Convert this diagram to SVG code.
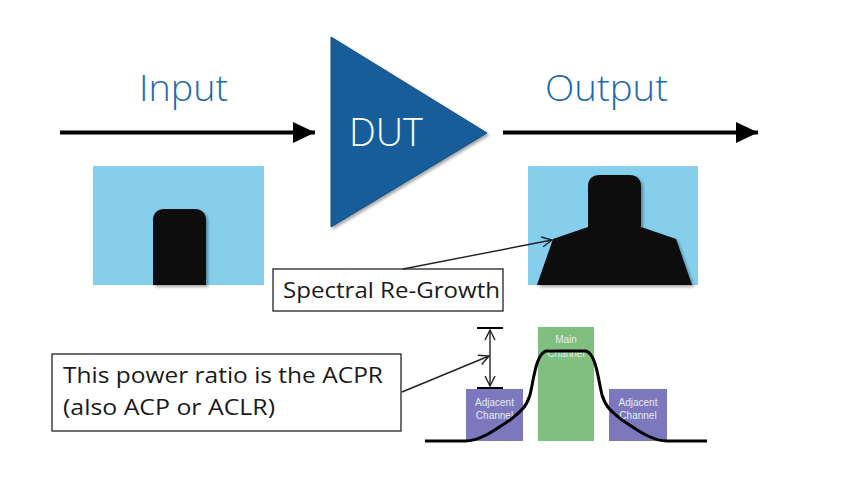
<svg xmlns="http://www.w3.org/2000/svg" width="851" height="494" viewBox="0 0 851 494">
<defs>
<style>
.title{font-family:"Open Sans","Noto Sans","Liberation Sans",sans-serif;font-weight:300;fill:#1b69ae;font-size:36px}
.lbl{font-family:"Open Sans","Noto Sans","Liberation Sans",sans-serif;fill:#1a1a1a;font-size:21px}
.small{font-family:"Liberation Sans","Arial",sans-serif;fill:#e6ecf5;font-size:10px;text-anchor:middle}
.box{fill:#ffffff;stroke:#222;stroke-width:1.3}
.spec{fill:#85cfec}
.pulse{fill:#07080a;filter:url(#sh)}
.thin{stroke:#222;stroke-width:1.4;fill:none}
.main{stroke:#000;stroke-width:4;fill:none}
</style>
<filter id="sh" x="-10%" y="-10%" width="130%" height="130%">
<feDropShadow dx="2" dy="2" stdDeviation="1.5" flood-color="#000" flood-opacity="0.35"/>
</filter>
<marker id="big" markerUnits="userSpaceOnUse" markerWidth="24" markerHeight="24" viewBox="0 0 24 24" refX="22" refY="12" orient="auto">
<path d="M0,1.5 L22,12 L0,22.5 Z" fill="#000"/>
</marker>
<marker id="open" markerUnits="userSpaceOnUse" markerWidth="14" markerHeight="14" viewBox="0 0 14 14" refX="12" refY="7" orient="auto-start-reverse">
<path d="M2,2 L12,7 L2,12" fill="none" stroke="#222" stroke-width="1.4"/>
</marker>
</defs>

<g id="input-label"><text class="title" x="139" y="101" textLength="89" lengthAdjust="spacingAndGlyphs">Input</text></g>
<g id="output-label"><text class="title" x="545" y="101" textLength="123" lengthAdjust="spacingAndGlyphs">Output</text></g>

<g id="dut">
<polygon points="331,37 487,133 331,227" fill="#175d9a" stroke="#124f85" stroke-width="1" filter="url(#sh)"/>
<text x="349" y="146" font-family="Open Sans,Noto Sans,Liberation Sans,sans-serif" font-size="38" font-weight="300" fill="#ffffff" textLength="74" lengthAdjust="spacingAndGlyphs">DUT</text>
</g>

<g id="input-spectrum">
<rect class="spec" x="93" y="166" width="171" height="119"/>
<path class="pulse" d="M153,285 L153,221 Q153,209 165,209 L194,209 Q206,209 206,221 L206,285 Z"/>
</g>

<g id="output-spectrum">
<rect class="spec" x="528" y="166" width="170" height="119"/>
<path class="pulse" d="M537,285 L553,239 L588,227 L588,187 Q588,175 600,175 L629,175 Q641,175 641,187 L641,227 L676,239 L692,285 Z"/>
</g>

<g id="spectral-regrowth">
<rect class="box" x="273" y="269" width="230" height="42"/>
<text class="lbl" x="283" y="298" textLength="217" lengthAdjust="spacingAndGlyphs">Spectral Re-Growth</text>
</g>

<g id="acpr-note">
<rect class="box" x="52" y="354" width="349" height="77"/>
<text class="lbl" x="63" y="383" textLength="320" lengthAdjust="spacingAndGlyphs">This power ratio is the ACPR</text>
<text class="lbl" x="63" y="415" textLength="212" lengthAdjust="spacingAndGlyphs">(also ACP or ACLR)</text>
</g>

<g id="adjacent-left">
<rect x="466" y="389" width="57" height="52" fill="#7b78bd"/>
<text class="small" x="494.5" y="406">Adjacent</text>
<text class="small" x="494.5" y="419">Channel</text>
</g>
<g id="main-channel">
<rect x="538" y="327" width="56" height="114" fill="#7fbf7f"/>
<text class="small" x="566" y="343" fill="#e8f0e0">Main</text>
<text class="small" x="566" y="357">Channel</text>
</g>
<g id="adjacent-right">
<rect x="609" y="389" width="58" height="52" fill="#7b78bd"/>
<text class="small" x="638" y="406">Adjacent</text>
<text class="small" x="638" y="419">Channel</text>
</g>

<g id="spectrum-curve">
<path d="M425,441 L465,441 C480,441 495,430 510,420 C520,412 526,408 530,395 C534,378 536,354 546,351 L586,351 C596,354 598,378 602,395 C606,408 612,412 622,420 C637,430 652,441 667,441 L707,441" fill="none" stroke="#000" stroke-width="3"/>
</g>

<g id="ratio-measure">
<line x1="477" y1="328" x2="503" y2="328" stroke="#000" stroke-width="2"/>
<line x1="477" y1="388" x2="503" y2="388" stroke="#000" stroke-width="2"/>
<line class="thin" x1="490" y1="330" x2="490" y2="386" marker-start="url(#open)" marker-end="url(#open)"/>
</g>

<g id="connectors">
<line class="main" x1="60" y1="132.5" x2="315" y2="132.5" marker-end="url(#big)"/>
<line class="main" x1="503" y1="132.5" x2="758" y2="132.5" marker-end="url(#big)"/>
<line class="thin" x1="403" y1="269" x2="552" y2="240" marker-end="url(#open)"/>
<line class="thin" x1="402" y1="392" x2="489" y2="356" marker-end="url(#open)"/>
</g>
</svg>
